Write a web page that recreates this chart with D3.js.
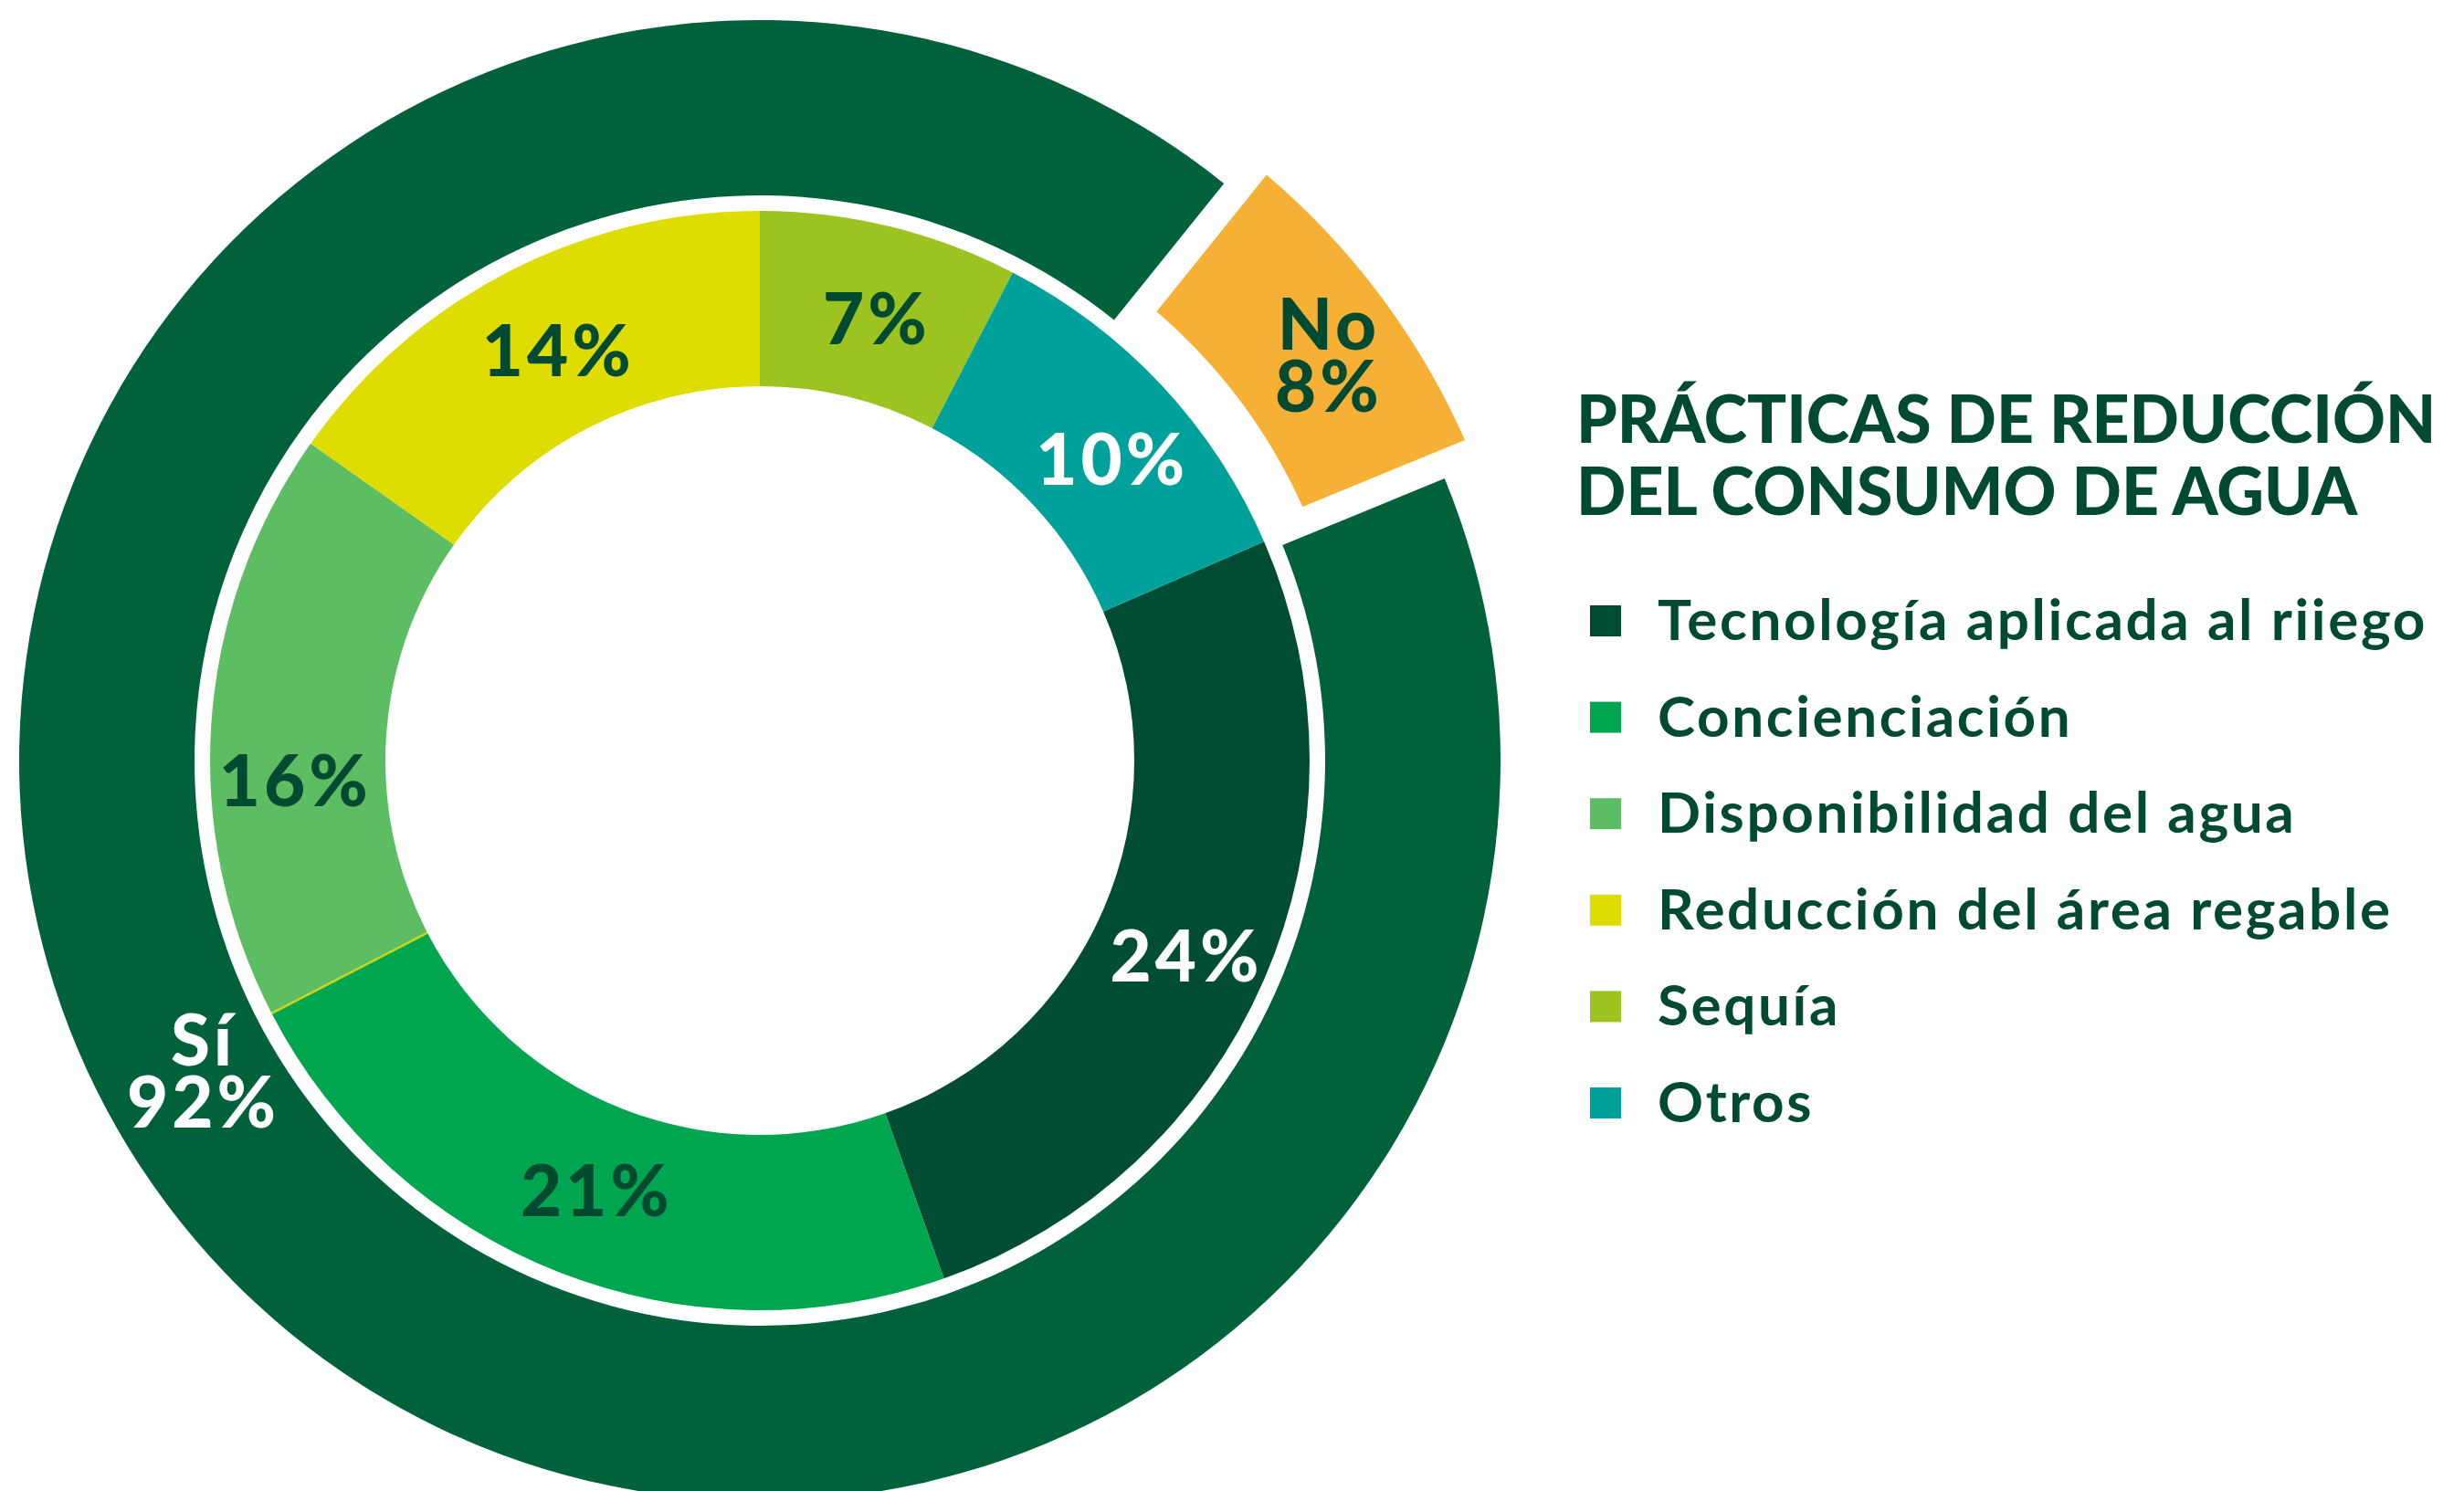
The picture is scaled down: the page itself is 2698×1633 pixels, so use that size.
<!DOCTYPE html>
<html><head><meta charset="utf-8">
<script src="https://cdn.jsdelivr.net/npm/d3@7"></script>
<style>html,body{margin:0;padding:0;background:#fff;} svg{display:block}</style>
</head><body><svg id="chart" width="2698" height="1633"></svg>
<script>
// ---- data ----
const outerCategories = ["No", "Sí"];
const outerValues = [8, 92];
const innerCategories = ["Tecnología aplicada al riiego", "Concienciación", "Disponibilidad del agua", "Reducción del área regable", "Sequía", "Otros"];
const innerValues = [24, 21, 16, 14, 7, 10];
const legendTitle = ["PRÁCTICAS DE REDUCCIÓN", "DEL CONSUMO DE AGUA"];

// ---- styles ----
const innerColors = ["#004d33", "#00a54f", "#5cbd63", "#dedc00", "#9cc31f", "#00a19a"];
const innerLabelColors = ["#ffffff", "#004a32", "#004a32", "#004a32", "#004a32", "#ffffff"];
const outerColors = ["#f5b035", "#00613a"];
const outerLabelColors = ["#004a32", "#ffffff"];
const dark = "#004a32";
const labelFont = "Lato, 'Open Sans', sans-serif";

const cx = 832, cy = 833;
const deg = Math.PI / 180;
const svg = d3.select("#chart");
const g = svg.append("g").attr("transform", `translate(${cx},${cy})`);

// ---- outer ring (Sí / No) ----
const outerStart = 38.8 * deg;
const outerPie = d3.pie().sort(null).value(d => d)
  .startAngle(outerStart).endAngle(outerStart + 2 * Math.PI);
const outerData = outerPie(outerValues);
const rO0 = 619, rO1 = 811;
const explodeDist = 38;
const ringArc = d3.arc().innerRadius(rO0).outerRadius(rO1);
const explodedArc = d3.arc().innerRadius(rO0).outerRadius(rO1).padAngle(0.06).padRadius(700);

outerData.forEach((a, i) => {
  const exploded = outerCategories[i] === "No";
  const mid = (a.startAngle + a.endAngle) / 2;
  const off = exploded ? explodeDist : 0;
  const tx = off * Math.sin(mid), ty = -off * Math.cos(mid);
  g.append("path")
    .attr("d", (exploded ? explodedArc : ringArc)(a))
    .attr("transform", `translate(${tx},${ty})`)
    .attr("fill", outerColors[i]);
});

// ---- inner donut ----
const innerTotal = d3.sum(innerValues);
const beforeTop = d3.sum(innerValues.slice(0, 4));
const innerStart = 2 * Math.PI - beforeTop / innerTotal * 2 * Math.PI;
const innerPie = d3.pie().sort(null).value(d => d)
  .startAngle(innerStart).endAngle(innerStart + 2 * Math.PI);
const innerData = innerPie(innerValues);
const rI0 = 410, rI1 = 602;
const innerArc = d3.arc().innerRadius(rI0).outerRadius(rI1);

g.selectAll("path.inner").data(innerData).join("path")
  .attr("class", "inner")
  .attr("d", innerArc)
  .attr("fill", (d, i) => innerColors[i]);

// thin yellowish seam between Concienciación and Disponibilidad (as in the original)
{
  const a = innerData[1].endAngle;
  g.append("line")
    .attr("x1", rI0 * Math.sin(a)).attr("y1", -rI0 * Math.cos(a))
    .attr("x2", rI1 * Math.sin(a)).attr("y2", -rI1 * Math.cos(a))
    .attr("stroke", "#c9d81c").attr("stroke-width", 2.5);
}

// ---- labels ----
const fs = 78, lineGap = 68, capH = fs * 0.72;
const innerNudge = [[3, 12], [7, 0], [-4, 56], [12, 0], [8, 8], [16, 15]];
innerData.forEach((d, i) => {
  const [x, y] = innerArc.centroid(d);
  g.append("text")
    .attr("x", x + innerNudge[i][0])
    .attr("y", y + innerNudge[i][1] + capH / 2)
    .attr("text-anchor", "middle")
    .attr("font-family", labelFont).attr("font-weight", 900)
    .attr("font-size", fs).attr("letter-spacing", 4)
    .attr("fill", innerLabelColors[i])
    .text(innerValues[i] + "%");
});

const outerNudge = [[20, 7], [-37, -88]];
outerData.forEach((d, i) => {
  const exploded = outerCategories[i] === "No";
  const mid = (d.startAngle + d.endAngle) / 2;
  const off = exploded ? explodeDist : 0;
  let [x, y] = ringArc.centroid(d);
  x += off * Math.sin(mid) + outerNudge[i][0];
  y += -off * Math.cos(mid) + outerNudge[i][1];
  const t = g.append("text")
    .attr("text-anchor", "middle")
    .attr("font-family", labelFont).attr("font-weight", 900)
    .attr("font-size", fs).attr("letter-spacing", 4)
    .attr("fill", outerLabelColors[i]);
  t.append("tspan").attr("x", x).attr("y", y - lineGap / 2 + capH / 2).text(outerCategories[i]);
  t.append("tspan").attr("x", x).attr("y", y + lineGap / 2 + capH / 2).text(outerValues[i] + "%");
});

// ---- legend ----
const lx = 1726;
const legend = svg.append("g");
legend.selectAll("text.title").data(legendTitle).join("text")
  .attr("class", "title")
  .attr("x", lx).attr("y", (d, i) => 485 + i * 79)
  .attr("font-family", labelFont).attr("font-weight", 900)
  .attr("font-size", 71.5).attr("letter-spacing", 0).attr("fill", dark)
  .text(d => d);

const itemY = d3.scalePoint().domain(innerCategories).range([680, 1208]);
const items = legend.selectAll("g.item").data(innerCategories).join("g")
  .attr("class", "item")
  .attr("transform", d => `translate(${lx + 15},${itemY(d)})`);
items.append("rect")
  .attr("x", 0).attr("y", -17).attr("width", 34).attr("height", 34)
  .attr("fill", (d, i) => innerColors[i]);
items.append("text")
  .attr("x", 74).attr("y", 21)
  .attr("font-family", labelFont).attr("font-weight", 700)
  .attr("font-size", 62).attr("letter-spacing", 2.6).attr("fill", dark)
  .text(d => d);
</script></body></html>
